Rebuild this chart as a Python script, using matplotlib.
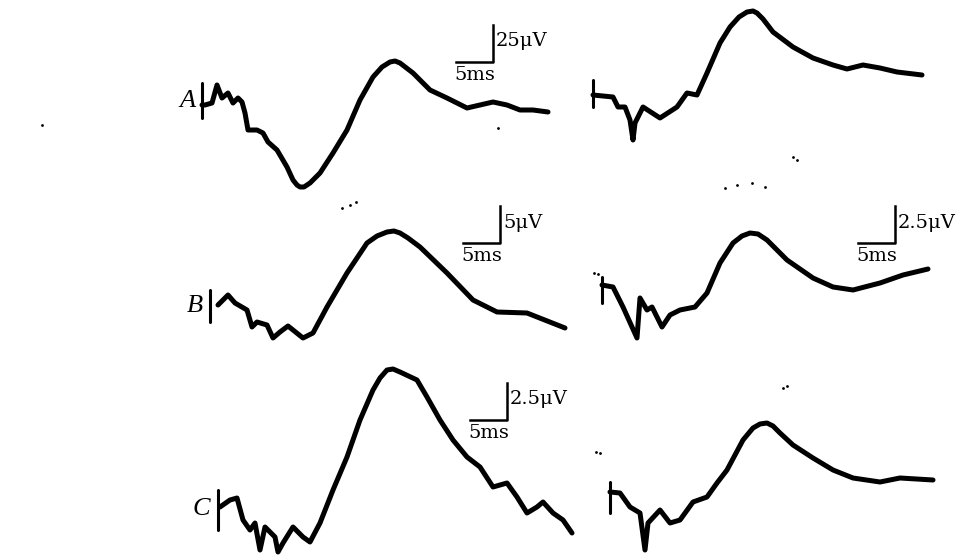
import numpy as np
import matplotlib.pyplot as plt

# Traces: x = time offset from the trace start (px of the
# original record), y = deflection from the start level (up is positive)
A_left_x = [0, 3, 10, 15, 20, 26, 31, 36, 40, 43, 46, 55, 61, 66, 75, 85, 91, 95, 98, 102,
            108, 118, 131, 145, 158, 171, 180, 188, 193, 198, 211, 228, 245, 265, 278,
            291, 305, 318, 331, 346]
A_left_y = [0, 0, 2, 20, 7, 12, 2, 7, 3, -8, -25, -25, -28, -37, -45, -62, -75, -80, -82,
            -82, -78, -68, -48, -25, 5, 28, 38, 43, 44, 42, 32, 15, 7, -3, 0, 3, 0, -5,
            -5, -7]

A_right_x = [0, 20, 25, 32, 37, 40, 42, 50, 67, 84, 94, 104, 114, 127, 137, 146, 154, 160,
             164, 170, 180, 200, 220, 240, 254, 270, 287, 304, 329]
A_right_y = [0, -2, -12, -12, -25, -45, -28, -12, -23, -12, 2, 0, 22, 52, 68, 78, 83, 84,
             82, 76, 63, 48, 37, 30, 26, 30, 27, 23, 20]

B_left_x = [8, 18, 25, 37, 42, 47, 57, 63, 70, 78, 93, 103, 117, 137, 157, 167, 177, 184,
            190, 198, 210, 237, 263, 287, 317, 355]
B_left_y = [-2, 8, 0, -7, -24, -19, -22, -35, -29, -23, -35, -30, -4, 30, 60, 67, 71, 72,
            70, 65, 56, 30, 3, -9, -10, -25]

B_right_x = [0, 11, 21, 35, 38, 45, 50, 60, 68, 78, 93, 105, 118, 131, 140, 148, 156, 165,
             185, 211, 231, 251, 278, 301, 326]
B_right_y = [0, -2, -22, -53, -13, -25, -22, -42, -30, -25, -22, -8, 22, 42, 49, 52, 51, 45,
             25, 7, -2, -5, 2, 10, 16]

C_left_x = [2, 12, 19, 25, 32, 37, 42, 47, 52, 57, 60, 65, 75, 85, 92, 102, 115, 129,
            142, 155, 162, 169, 175, 182, 199, 209, 222, 235, 249, 262, 275, 289, 299, 309,
            319, 325, 335, 345, 354]
C_left_y = [0, 7, 9, -13, -23, -16, -43, -20, -25, -30, -45, -36, -20, -30, -35, -16, 17,
            50, 87, 117, 129, 137, 138, 135, 127, 110, 87, 67, 50, 40, 20, 24, 10, -6, 0,
            5, -6, -13, -26]

C_right_x = [0, 10, 20, 30, 35, 38, 50, 60, 70, 83, 97, 107, 117, 133, 143, 150, 157, 163,
             170, 183, 203, 223, 243, 270, 290, 323]
C_right_y = [0, -1, -15, -21, -58, -31, -18, -31, -28, -10, -5, 9, 22, 52, 64, 68, 69, 66,
             59, 47, 34, 22, 14, 10, 14, 12]

panel_labels = ["A", "", "B", "", "C", ""]
scale_labels = ["25μV", None, "5μV", "2.5μV", "2.5μV", None]
time_label = "5ms"

# specks of dirt on the scan
speck_x = [42, 342, 350, 356, 793, 797, 737, 752, 765, 725, 594, 598, 596, 600, 498, 783, 787]
speck_y = [125, 208, 205, 202, 157, 160, 185, 183, 187, 188, 273, 274, 452, 453, 128, 388, 386]

# layout (pixel frame of the figure)
traces = [(A_left_x, A_left_y), (A_right_x, A_right_y), (B_left_x, B_left_y),
          (B_right_x, B_right_y), (C_left_x, C_left_y), (C_right_x, C_right_y)]
origins = [(202, 105), (593, 95), (210, 303), (602, 285), (218, 507), (610, 492)]
tick_spans = [(22, -13), (15, -12), (13, -19), (8, -18), (17, -23), (10, -21)]
label_pos = [(188, 101), None, (195, 306), None, (201, 509), None]
bar_corner = [(493, 62), None, (500, 243), (895, 243), (507, 420), None]
bar_len = 37

fig = plt.figure(figsize=(9.73, 5.59), dpi=100)
ax = fig.add_axes([0, 0, 1, 1])
ax.set_xlim(0, 973)
ax.set_ylim(559, 0)
ax.axis("off")

for i, (tx, ty) in enumerate(traces):
    x0, y0 = origins[i]
    ax.plot(x0 + np.array(tx), y0 - np.array(ty), color="black", lw=3.6,
            solid_capstyle="round", solid_joinstyle="round")
    up, down = tick_spans[i]
    ax.plot([x0, x0], [y0 - up, y0 - down], color="black", lw=2.2, solid_capstyle="round")
    if panel_labels[i]:
        lx, ly = label_pos[i]
        ax.text(lx, ly, panel_labels[i], family="Liberation Serif", style="italic",
                fontsize=19, ha="center", va="center")
    if bar_corner[i] is not None:
        cx, cy = bar_corner[i]
        ax.plot([cx - bar_len, cx, cx], [cy, cy, cy - bar_len], color="black", lw=1.8)
        ax.text(cx + 3, cy - bar_len / 2 - 2, scale_labels[i], family="DejaVu Serif",
                fontsize=14, ha="left", va="center")
        ax.text(cx - bar_len / 2, cy + 13, time_label, family="DejaVu Serif",
                fontsize=14, ha="center", va="center")

ax.scatter(speck_x, speck_y, s=4, color="black", lw=0)

fig.savefig("out.png", dpi=100)
